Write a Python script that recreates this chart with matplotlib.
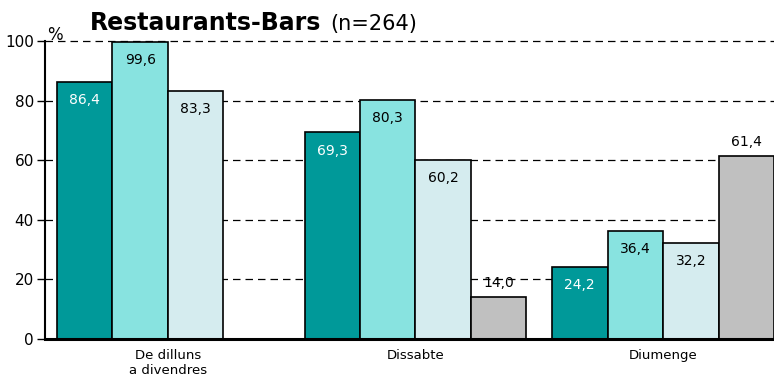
import matplotlib
matplotlib.use("Agg")
import matplotlib.pyplot as plt
import numpy as np

# data
groups = ["De dilluns\na divendres", "Dissabte", "Diumenge"]
serie_1 = [86.4, 69.3, 24.2]
serie_2 = [99.6, 80.3, 36.4]
serie_3 = [83.3, 60.2, 32.2]
serie_4 = [0.0, 14.0, 61.4]

colors = ["#009999", "#88E3E0", "#D5ECEF", "#C0C0C0"]
label_colors = ["white", "black", "black", "black"]

fig = plt.figure(figsize=(7.74, 3.76), dpi=100)
ax = fig.add_axes([45 / 774, 37 / 376, 729 / 774, 298 / 376])

bar_width = 1.0
group_step = 4.46
centers = np.arange(len(groups)) * group_step
offsets = [-1.5, -0.5, 0.5, 1.5]

for k, vals in enumerate([serie_1, serie_2, serie_3, serie_4]):
    xs = centers + offsets[k]
    ax.bar(xs, vals, width=bar_width, color=colors[k], edgecolor="black",
           linewidth=1.2, zorder=3)
    for x, v in zip(xs, vals):
        if v == 0:
            continue
        txt = ("%.1f" % v).replace(".", ",")
        # gray bars carry their label above, the others inside
        dy = 10 if k == 3 else -13
        ax.annotate(txt, (x, v), xytext=(0, dy), textcoords="offset points",
                    ha="center", va="center", fontsize=10,
                    color=label_colors[k], zorder=4)

ax.set_xlim(centers[0] - 2.216, centers[-1] + 2.0)
ax.set_ylim(0, 100)
ax.set_yticks([0, 20, 40, 60, 80, 100])
ax.set_xticks(centers)
ax.set_xticklabels(groups, fontsize=9.5)
ax.tick_params(axis="x", length=0, pad=7)
ax.tick_params(axis="y", direction="out", length=6, width=1, labelsize=11, pad=2)

# dashed gridlines behind the bars
for yv in [20, 40, 60, 80, 100]:
    ax.axhline(yv, color="black", linewidth=0.9, linestyle=(0, (6, 4)), zorder=1,
               clip_on=False)

ax.spines["top"].set_visible(False)
ax.spines["right"].set_visible(False)
ax.spines["left"].set_linewidth(1.5)
ax.spines["bottom"].set_linewidth(2.2)
ax.spines["bottom"].set_zorder(5)

fig.text(90 / 774, 1 - 30 / 376, "Restaurants-Bars", fontsize=17,
         fontweight="bold", va="baseline", ha="left")
fig.text(330 / 774, 1 - 30 / 376, "(n=264)", fontsize=15, va="baseline", ha="left")
fig.text(55 / 774, 1 - 35 / 376, "%", fontsize=12, va="center", ha="center")

plt.savefig("out.png", dpi=100)
